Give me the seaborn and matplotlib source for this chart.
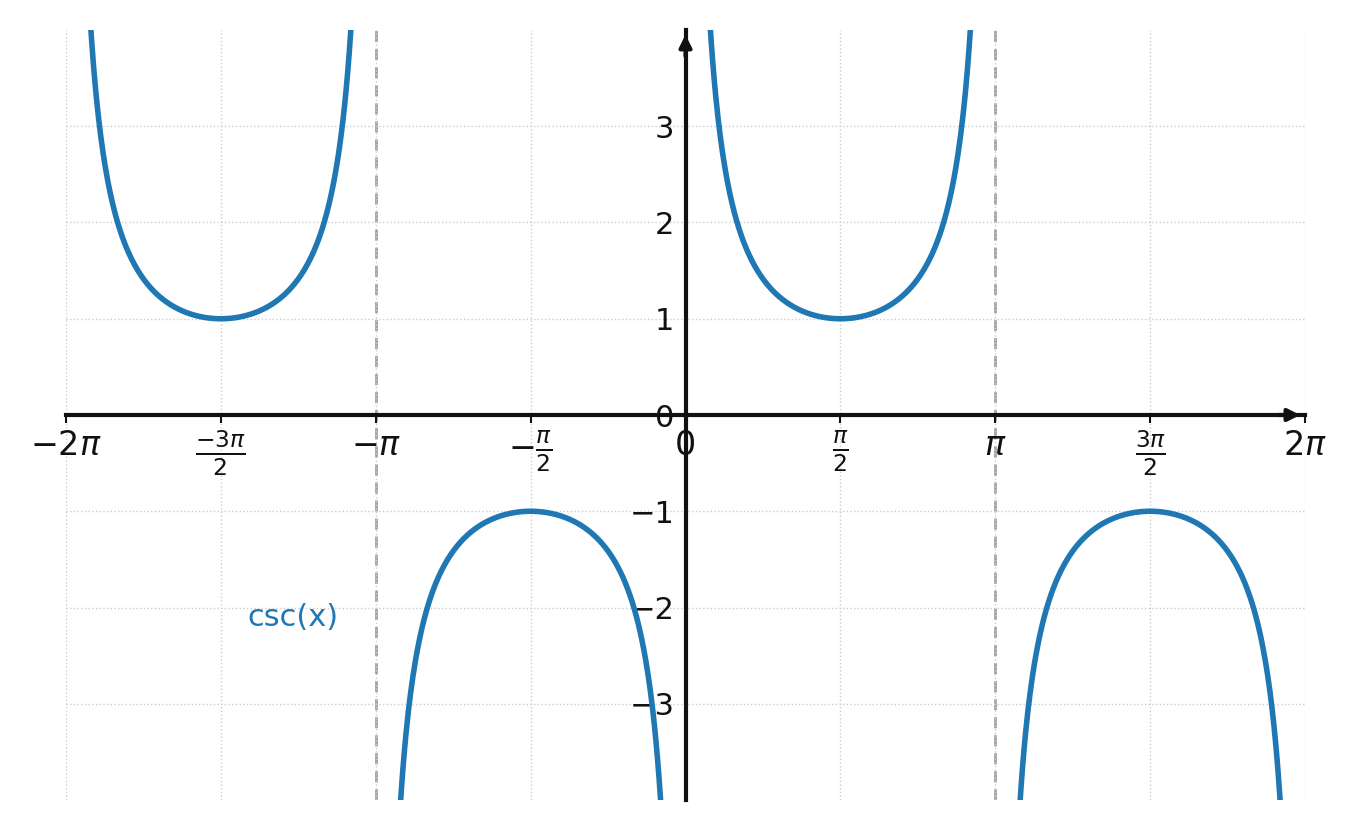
import numpy as np
import pandas as pd
import matplotlib
matplotlib.use('Agg')
import matplotlib.pyplot as plt
import seaborn as sns

# branches of csc(x) between asymptotes at multiples of pi
branch_starts = [-2 * np.pi, -np.pi, 0.0, np.pi]
asymptotes = [-np.pi, np.pi]
tick_pos = [-2 * np.pi, -1.5 * np.pi, -np.pi, -0.5 * np.pi, 0, 0.5 * np.pi, np.pi, 1.5 * np.pi, 2 * np.pi]
tick_labels = [r'$-2\pi$', r'$\frac{-3\pi}{2}$', r'$-\pi$', r'$-\frac{\pi}{2}$', '0',
               r'$\frac{\pi}{2}$', r'$\pi$', r'$\frac{3\pi}{2}$', r'$2\pi$']
ytick_pos = [-3, -2, -1, 0, 1, 2, 3]
ytick_labels = ['\u22123', '\u22122', '\u22121', '0', '1', '2', '3']

frames = []
for i, s in enumerate(branch_starts):
    x = np.linspace(s + 0.01, s + np.pi - 0.01, 400)
    frames.append(pd.DataFrame({'x': x, 'y': 1 / np.sin(x), 'branch': i}))
df = pd.concat(frames)

fig = plt.figure(figsize=(13.57, 8.3), dpi=100)
ax = fig.add_axes([66 / 1357, 30 / 830, 1239 / 1357, 770 / 830])
blue = '#1f77b4'
for i, g in df.groupby('branch'):
    sns.lineplot(data=g, x='x', y='y', ax=ax, color=blue, lw=4, legend=False, zorder=3)

for a in asymptotes:
    ax.axvline(a, color='#a0a0a0', ls=(0, (4, 2.5)), lw=2, zorder=1)

ax.set_xlim(-2 * np.pi, 2 * np.pi)
ax.set_ylim(-4, 4)
ax.set_xticks(tick_pos)
ax.set_xticklabels(tick_labels)
ax.set_yticks(ytick_pos)
ax.set_yticklabels(ytick_labels)
ax.grid(True, ls=':', color='#cccccc', lw=1)
ax.set_xlabel('')
ax.set_ylabel('')

for side in ['top', 'right']:
    ax.spines[side].set_visible(False)
ax.spines['left'].set_position(('data', 0))
ax.spines['bottom'].set_position(('data', 0))
ax.spines['left'].set_linewidth(3)
ax.spines['bottom'].set_linewidth(3)
ax.spines['left'].set_color('#111111')
ax.spines['bottom'].set_color('#111111')
ax.tick_params(axis='x', direction='out', length=6, width=1.5, colors='#111111', pad=4, labelsize=24)
ax.tick_params(axis='y', length=0, pad=8, colors='#111111', labelsize=22)
for lbl in ax.get_xticklabels():
    lbl.set_fontsize(24)
for lbl in ax.get_yticklabels():
    lbl.set_fontsize(22)
ax.annotate('', xy=(2 * np.pi - 0.02, 0), xytext=(2 * np.pi - 0.3, 0),
            arrowprops=dict(arrowstyle='-|>', color='#111111', lw=3, mutation_scale=18))
ax.annotate('', xy=(0, 3.98), xytext=(0, 3.7),
            arrowprops=dict(arrowstyle='-|>', color='#111111', lw=3, mutation_scale=18))
ax.text(-3.98, -2.1, 'csc(x)', color=blue, fontsize=22, ha='center', va='center')

fig.savefig('out.png', dpi=100)
